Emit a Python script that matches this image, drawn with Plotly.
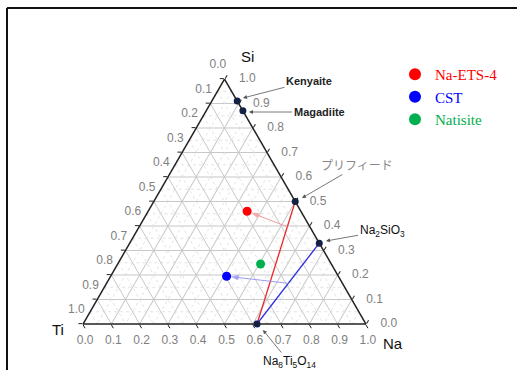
import plotly.graph_objects as go

# ---------------- data (ternary fractions: Si, Ti, Na) ----------------
compound_names = ["Kenyaite", "Magadiite", "プリフィード", "Na2SiO3", "Na8Ti5O14"]
compound_si = [0.91, 0.87, 0.50, 0.33, 0.00]
compound_ti = [0.00, 0.00, 0.00, 0.00, 0.385]
compound_na = [0.09, 0.13, 0.50, 0.67, 0.615]

sample_names = ["Na-ETS-4", "CST", "Natisite"]
sample_si = [0.46, 0.195, 0.245]
sample_ti = [0.19, 0.395, 0.25]
sample_na = [0.35, 0.41, 0.505]
sample_colors = ["#ff0000", "#0000ff", "#00b050"]

# tie lines
red_line_si = [0.50, 0.00]
red_line_ti = [0.00, 0.385]
red_line_na = [0.50, 0.615]
blue_line_si = [0.33, 0.00]
blue_line_ti = [0.00, 0.385]
blue_line_na = [0.67, 0.615]

# light arrows from tie lines to samples (start point on line -> sample)
red_arrow_si = [0.397, 0.46]
red_arrow_ti = [0.079, 0.19]
red_arrow_na = [0.524, 0.35]
blue_arrow_si = [0.166, 0.195]
blue_arrow_ti = [0.191, 0.395]
blue_arrow_na = [0.643, 0.41]

# axis ticks
tick_vals = [0.0, 0.1, 0.2, 0.3, 0.4, 0.5, 0.6, 0.7, 0.8, 0.9, 1.0]
tick_labels = ["0.0", "0.1", "0.2", "0.3", "0.4", "0.5", "0.6", "0.7", "0.8", "0.9", "1.0"]
tick_labels_rev = ["1.0", "0.9", "0.8", "0.7", "0.6", "0.5", "0.4", "0.3", "0.2", "0.1", "0.0"]
minor_vals = [0.05, 0.15, 0.25, 0.35, 0.45, 0.55, 0.65, 0.75, 0.85, 0.95]

W, H = 517, 370
TICK_FONT = dict(family="Liberation Sans, Arial", size=12, color="#808080")
NBSP = "\u00a0"

def px(x):
    return x / W

def py(y):
    return 1 - y / H

fig = go.Figure()

# faint dotted minor grid
ma, mb, mc = [], [], []
for k in minor_vals:
    ma += [k, k, None]; mb += [1 - k, 0, None]; mc += [0, 1 - k, None]
    ma += [1 - k, 0, None]; mb += [k, k, None]; mc += [0, 1 - k, None]
    ma += [1 - k, 0, None]; mb += [0, 1 - k, None]; mc += [k, k, None]
fig.add_trace(go.Scatterternary(a=ma, b=mb, c=mc, mode="lines",
                                line=dict(color="#dcdcdc", width=0.8, dash="dot"),
                                showlegend=False, hoverinfo="skip"))

# Ti tick labels on the left edge (Ti = v, Si = 1 - v, Na = 0)
fig.add_trace(go.Scatterternary(
    a=[1 - v for v in tick_vals], b=tick_vals, c=[0] * len(tick_vals),
    mode="markers+text", text=[t + NBSP * 4 for t in tick_labels],
    textposition="top center", textfont=TICK_FONT,
    marker=dict(size=11, opacity=0), cliponaxis=False,
    showlegend=False, hoverinfo="skip"))

# Si tick labels on the right edge (Si = v, Na = 1 - v, Ti = 0)
fig.add_trace(go.Scatterternary(
    a=tick_vals, b=[0] * len(tick_vals), c=[1 - v for v in tick_vals],
    mode="markers+text", text=tick_labels,
    textposition="middle right", textfont=TICK_FONT,
    marker=dict(size=21.5, opacity=0), cliponaxis=False,
    showlegend=False, hoverinfo="skip"))

# tie lines
fig.add_trace(go.Scatterternary(a=red_line_si, b=red_line_ti, c=red_line_na, mode="lines",
                                line=dict(color="#e8262b", width=1.3), showlegend=False))
fig.add_trace(go.Scatterternary(a=blue_line_si, b=blue_line_ti, c=blue_line_na, mode="lines",
                                line=dict(color="#2b2be0", width=1.3), showlegend=False))

# light arrows
fig.add_trace(go.Scatterternary(a=red_arrow_si, b=red_arrow_ti, c=red_arrow_na, mode="lines+markers",
                                line=dict(color="#f29a9a", width=1),
                                marker=dict(symbol="arrow", size=[0, 7], angleref="previous",
                                            standoff=5, color="#f08080"),
                                showlegend=False, hoverinfo="skip"))
fig.add_trace(go.Scatterternary(a=blue_arrow_si, b=blue_arrow_ti, c=blue_arrow_na, mode="lines+markers",
                                line=dict(color="#9a9af2", width=1),
                                marker=dict(symbol="arrow", size=[0, 7], angleref="previous",
                                            standoff=5, color="#7070f0"),
                                showlegend=False, hoverinfo="skip"))

# compound points
fig.add_trace(go.Scatterternary(a=compound_si, b=compound_ti, c=compound_na, mode="markers",
                                text=compound_names,
                                marker=dict(color="#0d1f55", size=7),
                                cliponaxis=False, showlegend=False))

# samples
for name, a, b, c, col in zip(sample_names, sample_si, sample_ti, sample_na, sample_colors):
    fig.add_trace(go.Scatterternary(a=[a], b=[b], c=[c], mode="markers",
                                    name=f"<span style='color:{col}'>{name}</span>",
                                    marker=dict(color=col, size=9)))

axis_common = dict(
    tickmode="array", tickvals=tick_vals,
    tickfont=TICK_FONT,
    linecolor="#222222", linewidth=1.5,
    gridcolor="#c8c8c8", gridwidth=1,
    ticks="outside", ticklen=4, tickcolor="#222222",
    showgrid=True, min=0,
    title=dict(text=""),
)

fig.update_layout(
    width=W, height=H,
    margin=dict(l=0, r=0, t=0, b=0),
    paper_bgcolor="white",
    font=dict(family="Liberation Sans, Arial", size=12, color="#222"),
    ternary=dict(
        sum=1,
        domain=dict(x=[83 / W, 366 / W], y=[py(324), py(79)]),
        bgcolor="white",
        aaxis=dict(**axis_common, showticklabels=False),
        baxis=dict(**axis_common, ticktext=tick_labels_rev, showticklabels=True),
        caxis=dict(**axis_common, showticklabels=False),
    ),
    legend=dict(x=px(395), y=py(58), xanchor="left", yanchor="top",
                font=dict(family="Liberation Serif, Times New Roman", size=15),
                bgcolor="rgba(0,0,0,0)", itemsizing="constant"),
    showlegend=True,
)

annotations = []
# axis titles
for txt, x, y in [("Si", 247, 57), ("Ti", 58, 329), ("Na", 393, 343)]:
    annotations.append(dict(text=txt, x=px(x), y=py(y), xref="paper", yref="paper",
                            showarrow=False, font=dict(size=15, color="#111"),
                            xanchor="center", yanchor="middle"))

# compound labels with callout arrows: (text, text centre px, arrow tip px, size, colour)
labels = [
    ("<b>Kenyaite</b>", (309, 81), (243, 98), 11, "#222"),
    ("<b>Magadiite</b>", (319, 112), (249, 112), 11, "#222"),
    ("プリフィード", (357, 166), (302, 198), 12, "#888888"),
    ("Na<sub>2</sub>SiO<sub>3</sub>", (382, 231), (326, 241), 12, "#111"),
    ("Na<sub>8</sub>Ti<sub>5</sub>O<sub>14</sub>", (289, 362), (263, 330), 12, "#111"),
]
for txt, (tx, ty), (hx, hy), s, col in labels:
    annotations.append(dict(text=txt, x=px(hx), y=py(hy), ax=tx - hx, ay=ty - hy,
                            xref="paper", yref="paper", axref="pixel", ayref="pixel",
                            showarrow=True, arrowhead=2, arrowsize=1, arrowwidth=0.8,
                            arrowcolor="#555",
                            font=dict(size=s, color=col,
                                      family="Liberation Sans, Arial, Noto Sans CJK JP")))
fig.update_layout(annotations=annotations)

# frame lines (top and left)
fig.add_shape(type="line", xref="paper", yref="paper", x0=px(7), y0=py(8), x1=1.01, y1=py(8),
              line=dict(color="#111", width=2))
fig.add_shape(type="line", xref="paper", yref="paper", x0=px(7), y0=py(8), x1=px(7), y1=-0.01,
              line=dict(color="#111", width=2))

fig.write_html("out.html")
